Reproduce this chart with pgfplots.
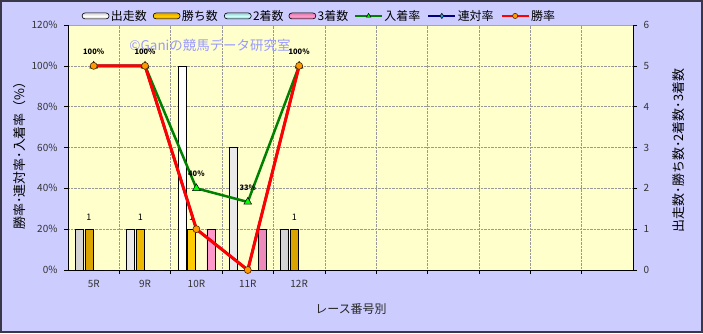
\documentclass[border=0pt]{standalone}
\usepackage{pgfplots}
\pgfplotsset{compat=1.18}
\usepackage{pgfplotstable}
\usepackage{fontspec}
\setmainfont{Noto Sans CJK JP}
\definecolor{bgout}{HTML}{CCCCFF}
\definecolor{bgplot}{HTML}{FFFFCC}
\definecolor{framec}{HTML}{383848}
\definecolor{gold}{HTML}{FFCC00}
\definecolor{golddark}{HTML}{D9A300}
\definecolor{cyanbar}{HTML}{CCFFFF}
\definecolor{cyandark}{HTML}{99CCCC}
\definecolor{pinkbar}{HTML}{FF99CC}
\definecolor{pinkdark}{HTML}{D97AAA}
\definecolor{wm}{HTML}{9999FF}
\definecolor{linegreen}{HTML}{008000}
\definecolor{markgreen}{HTML}{00FF00}
\definecolor{navyl}{HTML}{000080}
\definecolor{orangem}{HTML}{FF9900}

\pgfplotstableread{
x start win second third
0 1 1 0 0
1 1 1 0 0
2 5 1 0 1
3 3 0 0 1
4 1 1 0 0
}\counts
\pgfplotstableread{
x place ren win
0 100 100 100
1 100 100 100
2 40 20 20
3 33.33 0 0
4 100 100 100
}\rates

\newcommand{\lgf}{\fontsize{12}{13}\selectfont}
\newcommand{\lgbox}[2]{\makebox[#1][l]{\lgf #2}}
\pgfplotsset{
  linelegend/.style={legend image code/.code={\draw[mark repeat=2,mark phase=2,##1, line width=1.8bp, mark size=2.6bp] plot coordinates {(0bp,0bp) (13.5bp,0bp) (27bp,0bp)};}},
}

\begin{document}
\begin{tikzpicture}[x=1bp,y=1bp]
\path[use as bounding box] (0,0) rectangle (703,333);
\fill[bgout] (0,0) rectangle (703,333);
\draw[framec,line width=2bp] (1,1) rectangle (702,332);

\begin{axis}[
  at={(68bp,63bp)}, anchor=south west,
  scale only axis, width=565bp, height=245bp,
  xmin=-0.5, xmax=10.5, ymin=0, ymax=6,
  axis background/.style={fill=bgplot},
  axis x line*=bottom, axis y line*=right,
  axis line style={-, black, line width=0.8bp},
  xtick={0,...,4}, xticklabels={5R,9R,10R,11R,12R},
  minor xtick={0.5,1.5,...,9.5},
  major x tick style={draw=none},
  xminorgrids, ymajorgrids,
  major grid style={densely dotted, black!40, line width=0.5bp},
  minor grid style={densely dotted, black!40, line width=0.5bp},
  ytick={0,...,6},
  tick align=outside, major tick length=4bp, minor tick length=4bp,
  tick style={black, line width=0.6bp},
  tick label style={font=\fontsize{10}{12}\selectfont, text=black!80},
  xticklabel style={yshift=-3bp},
  yticklabel style={xshift=3bp},
  /pgf/number format/assume math mode=true,
  clip=false,
]
\addplot[ybar, bar width=0.156, bar shift=-0.283, draw=black, line width=0.6bp,
  left color=gray!35, right color=gray!35, middle color=white]
  table[x=x,y=start]{\counts};
\addplot[ybar, bar width=0.156, bar shift=-0.094, draw=black, line width=0.6bp,
  left color=golddark, right color=golddark, middle color=gold]
  table[x=x,y=win]{\counts};
\addplot[ybar, bar width=0.156, bar shift=0.094, draw=black, line width=0.6bp,
  left color=cyandark, right color=cyandark, middle color=cyanbar]
  table[x=x,y=second]{\counts};
\addplot[ybar, bar width=0.156, bar shift=0.283, draw=black, line width=0.6bp,
  left color=pinkdark, right color=pinkdark, middle color=pinkbar]
  table[x=x,y=third]{\counts};
% value labels of the 勝ち数 bars
\addplot[draw=none, mark=none,
  nodes near coords={\pgfmathfloatifflags{\pgfplotspointmeta}{0}{}{\pgfmathprintnumber{\pgfplotspointmeta}}},
  every node near coord/.append style={anchor=south, font=\fontsize{9}{10}\selectfont, text=black, xshift=-4.8bp, yshift=5.5bp}]
  table[x=x,y=win]{\counts};
\draw[black!35, line width=0.5bp] (rel axis cs:0,1) -- (rel axis cs:1,1);
\node[text=wm, font=\fontsize{13.5}{15}\selectfont] at (rel axis cs:0.2513,0.918) {©Ganiの競馬データ研究室};
\end{axis}

\begin{axis}[
  at={(68bp,63bp)}, anchor=south west,
  scale only axis, width=565bp, height=245bp,
  xmin=-0.5, xmax=10.5, ymin=0, ymax=120,
  hide x axis, axis y line*=left,
  axis line style={-, black, line width=0.8bp},
  ytick={0,20,...,120},
  yticklabel={\pgfmathprintnumber{\tick}\%},
  tick align=outside, major tick length=4bp,
  tick style={black, line width=0.6bp},
  tick label style={font=\fontsize{10}{12}\selectfont, text=black!80},
  yticklabel style={xshift=-3bp},
  /pgf/number format/assume math mode=true,
  clip=false,
  legend columns=-1,
  legend style={at={(0.024,1.037)}, anchor=west, draw=none, fill=none,
    font=\lgf, inner sep=0pt,
    nodes={inner xsep=1.5bp}},
]
\addlegendimage{legend image code/.code={\draw[black, line width=0.6bp, top color=gray!35, bottom color=gray!35, middle color=white, rounded corners=3bp] (0bp,-3bp) rectangle (27bp,3bp);}}
\addlegendentry{\lgbox{40.5bp}{出走数}}
\addlegendimage{legend image code/.code={\draw[black, line width=0.6bp, top color=golddark, bottom color=golddark, middle color=gold, rounded corners=3bp] (0bp,-3bp) rectangle (27bp,3bp);}}
\addlegendentry{\lgbox{40.5bp}{勝ち数}}
\addlegendimage{legend image code/.code={\draw[black, line width=0.6bp, top color=cyandark, bottom color=cyandark, middle color=cyanbar, rounded corners=3bp] (0bp,-3bp) rectangle (27bp,3bp);}}
\addlegendentry{\lgbox{34bp}{2着数}}
\addlegendimage{legend image code/.code={\draw[black, line width=0.6bp, top color=pinkdark, bottom color=pinkdark, middle color=pinkbar, rounded corners=3bp] (0bp,-3bp) rectangle (27bp,3bp);}}
\addlegendentry{\lgbox{35bp}{3着数}}

\addplot[linegreen, line width=2.5bp, mark=triangle*, mark size=4.5bp,
  mark options={fill=markgreen, draw=black, line width=0.5bp}, linelegend,
  nodes near coords={\pgfmathprintnumber[fixed,precision=0]{\pgfplotspointmeta}\%},
  every node near coord/.append style={font=\bfseries\fontsize{7.5}{8}\selectfont, text=black, yshift=8bp}]
  table[x=x,y=place]{\rates};
\addlegendentry{\lgbox{41.5bp}{入着率}}
\addplot[navyl, line width=2.5bp, mark=diamond*, mark size=3bp,
  mark options={fill=cyan, draw=black, line width=0.5bp}, linelegend]
  table[x=x,y=ren]{\rates};
\addlegendentry{\lgbox{41.5bp}{連対率}}
\addplot[red, line width=3bp, mark=*, mark size=3.5bp,
  mark options={fill=orangem, draw=black!70!orange, line width=0.6bp}, linelegend]
  table[x=x,y=win]{\rates};
\addlegendentry{\lgf 勝率}
\end{axis}

\node[rotate=90, font=\fontsize{13}{15}\selectfont] at (20,180.5) {勝率･連対率･入着率（\%）};
\node[rotate=90, font=\fontsize{13}{15}\selectfont] at (679,182.5) {出走数･勝ち数･2着数･3着数};
\node[font=\fontsize{12}{14}\selectfont, text=black!85] at (351,24) {レース番号別};
\end{tikzpicture}
\end{document}
